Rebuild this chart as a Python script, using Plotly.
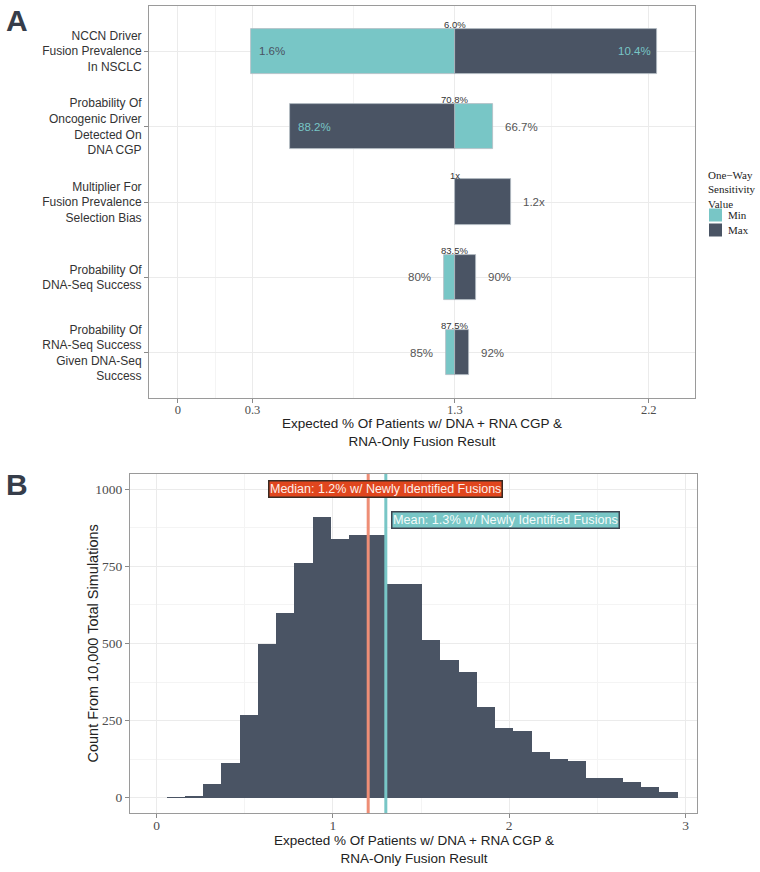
import plotly.graph_objects as go

W, H = 760, 872

# ---------------- Panel A data ----------------
categories = [
    "NCCN Driver<br>Fusion Prevalence<br>In NSCLC",
    "Probability Of<br>Oncogenic Driver<br>Detected On<br>DNA CGP",
    "Multiplier For<br>Fusion Prevalence<br>Selection Bias",
    "Probability Of<br>DNA-Seq Success",
    "Probability Of<br>RNA-Seq Success<br>Given DNA-Seq<br>Success",
]
base_result = 1.3
min_result = [0.345, 1.48, 1.3, 1.248, 1.258]
max_result = [2.25, 0.527, 1.562, 1.399, 1.367]
base_labels = ["6.0%", "70.8%", "1x", "83.5%", "87.5%"]
min_labels = ["1.6%", "66.7%", "", "80%", "85%"]
max_labels = ["10.4%", "88.2%", "1.2x", "90%", "92%"]
a_tick_vals = [0, 0.35, 1.3, 2.21]
a_tick_text = ["0", "0.3", "1.3", "2.2"]
a_minor_vals = [0.175, 0.825, 1.755]

# ---------------- Panel B data ----------------
bin_centers = [0.109, 0.212, 0.316, 0.419, 0.523, 0.626, 0.730, 0.833, 0.937, 1.040,
               1.144, 1.247, 1.351, 1.454, 1.558, 1.661, 1.765, 1.868, 1.972, 2.075,
               2.178, 2.282, 2.385, 2.489, 2.592, 2.696, 2.799, 2.903]
bin_width = 0.1035
bin_counts = [1, 6, 44, 112, 268, 500, 600, 760, 911, 838,
              851, 851, 694, 694, 510, 448, 408, 293, 225, 217,
              147, 124, 119, 62, 64, 50, 36, 18]
median_val = 1.2
mean_val = 1.3
median_label = "Median: 1.2% w/ Newly Identified Fusions"
mean_label = "Mean: 1.3% w/ Newly Identified Fusions"
median_label_pos = (1.3, 1000)
mean_label_pos = (1.3, 900)
b_tick_vals_x = [0, 1, 2, 3]
b_tick_vals_y = [0, 250, 500, 750, 1000]

TEAL = "#78c6c6"
DARK = "#4a5464"
OUTLINE = "#b4bbc3"
SANS = "Liberation Sans, Arial, sans-serif"
SERIF = "Liberation Serif, Times New Roman, serif"
GRID = "#ebebeb"
MINOR = "#f4f4f4"
BORDER = "#9a9a9a"


def px_x(p):
    return p / W


def px_y(p):
    return 1 - p / H


fig = go.Figure()

min_delta = [None if v == base_result else v - base_result for v in min_result]
max_delta = [None if v == base_result else v - base_result for v in max_result]

fig.add_trace(go.Bar(
    y=categories, x=min_delta, base=base_result, orientation="h", width=0.6,
    marker=dict(color=TEAL, line=dict(color=OUTLINE, width=0.8)),
    name="Min", showlegend=False, xaxis="x", yaxis="y", hoverinfo="skip"))
fig.add_trace(go.Bar(
    y=categories, x=max_delta, base=base_result, orientation="h", width=0.6,
    marker=dict(color=DARK, line=dict(color=OUTLINE, width=0.8)),
    name="Max", showlegend=False, xaxis="x", yaxis="y", hoverinfo="skip"))

fig.add_trace(go.Bar(
    x=bin_centers, y=bin_counts, width=bin_width,
    marker=dict(color=DARK, line=dict(color=DARK, width=0)),
    showlegend=False, xaxis="x2", yaxis="y2", hoverinfo="skip"))

annotations = []

# value labels panel A
for i, cat in enumerate(categories):
    annotations.append(dict(
        x=base_result, y=cat, xref="x", yref="y", text=base_labels[i],
        showarrow=False, yshift=27, xanchor="center", yanchor="middle",
        font=dict(family=SANS, size=9.5, color="#333333")))
    for val, lab, is_max in ((min_result[i], min_labels[i], False),
                             (max_result[i], max_labels[i], True)):
        if not lab:
            continue
        left = val < base_result
        inside = abs(val - base_result) > 0.3
        if inside:
            anchor = "left" if left else "right"
            shift = 6 if left else -4
            color = TEAL if is_max else "#4a5262"
        else:
            anchor = "right" if left else "left"
            shift = -11 if left else 10
            color = "#555555"
        annotations.append(dict(
            x=val, y=cat, xref="x", yref="y", text=lab, showarrow=False,
            xanchor=anchor, yanchor="middle", xshift=shift,
            font=dict(family=SANS, size=11.5, color=color)))

# axis titles
annotations.append(dict(
    x=0.5, xref="x domain", y=px_y(414), yref="paper",
    text="Expected % Of Patients w/ DNA + RNA CGP &<br>RNA-Only Fusion Result",
    showarrow=False, xanchor="center", yanchor="top",
    font=dict(family=SANS, size=13.5, color="#222222")))
annotations.append(dict(
    x=0.5, xref="x2 domain", y=px_y(831), yref="paper",
    text="Expected % Of Patients w/ DNA + RNA CGP &<br>RNA-Only Fusion Result",
    showarrow=False, xanchor="center", yanchor="top",
    font=dict(family=SANS, size=13.5, color="#222222")))
annotations.append(dict(
    x=px_x(92), xref="paper", y=0.5, yref="y2 domain",
    text="Count From 10,000 Total Simulations", textangle=-90,
    showarrow=False, xanchor="center", yanchor="middle",
    font=dict(family=SANS, size=14.5, color="#222222")))

# panel letters
annotations.append(dict(x=px_x(4), y=px_y(2), xref="paper", yref="paper",
                        text="<b>A</b>", showarrow=False, xanchor="left", yanchor="top",
                        font=dict(family=SANS, size=30, color="#363d4a")))
annotations.append(dict(x=px_x(4), y=px_y(466), xref="paper", yref="paper",
                        text="<b>B</b>", showarrow=False, xanchor="left", yanchor="top",
                        font=dict(family=SANS, size=30, color="#363d4a")))

# legend (manual)
annotations.append(dict(x=px_x(706), y=px_y(167), xref="paper", yref="paper",
                        text="One\u2212Way<br>Sensitivity<br>Value", showarrow=False,
                        xanchor="left", yanchor="top", align="left",
                        font=dict(family=SERIF, size=11, color="#222222")))
legend_items = [("Min", TEAL, 215), ("Max", DARK, 230)]
shapes = []
for name, col, yc in legend_items:
    shapes.append(dict(type="rect", xref="paper", yref="paper",
                       x0=px_x(709), x1=px_x(722), y0=px_y(yc - 6.5), y1=px_y(yc + 6.5),
                       fillcolor=col, line=dict(width=0)))
    annotations.append(dict(x=px_x(726), y=px_y(yc), xref="paper", yref="paper",
                            text=name, showarrow=False, xanchor="left", yanchor="middle",
                            font=dict(family=SERIF, size=11, color="#222222")))

# panel B lines and labels
shapes.append(dict(type="line", xref="x2", yref="y2 domain", x0=median_val, x1=median_val,
                   y0=0, y1=1, line=dict(color="#ee8e76", width=3)))
shapes.append(dict(type="line", xref="x2", yref="y2 domain", x0=mean_val, x1=mean_val,
                   y0=0, y1=1, line=dict(color=TEAL, width=3)))
annotations.append(dict(x=median_label_pos[0], y=median_label_pos[1], xref="x2", yref="y2",
                        text=median_label, showarrow=False, xanchor="center", yanchor="middle",
                        bgcolor="#e0461e", bordercolor="#3a2a22", borderwidth=1.5, borderpad=0.5,
                        font=dict(family=SANS, size=12.5, color="#fdf0ea")))
annotations.append(dict(x=mean_label_pos[0], y=mean_label_pos[1], xref="x2", yref="y2",
                        text=mean_label, showarrow=False, xanchor="left", yanchor="middle",
                        xshift=5,
                        bgcolor=TEAL, bordercolor="#3d4450", borderwidth=1.5, borderpad=0.5,
                        font=dict(family=SANS, size=12.7, color="#f4fbfb")))

axis_common = dict(showline=True, mirror=True, linecolor=BORDER, linewidth=1,
                   zeroline=False, ticks="outside", ticklen=4, tickcolor="#8a8a8a",
                   gridcolor=GRID, gridwidth=1)

fig.update_layout(
    width=W, height=H, margin=dict(l=0, r=0, t=0, b=0),
    paper_bgcolor="white", plot_bgcolor="white",
    barmode="overlay", bargap=0,
    showlegend=False,
    xaxis=dict(domain=[px_x(149), px_x(695)], range=[-0.136, 2.427],
               tickmode="array", tickvals=a_tick_vals, ticktext=a_tick_text,
               minor=dict(tickmode="array", tickvals=a_minor_vals, showgrid=True,
                          gridcolor=MINOR, gridwidth=1, ticks=""),
               tickfont=dict(family=SERIF, size=12.5, color="#4d4d4d"),
               ticklabelstandoff=-4,
               anchor="y", **axis_common),
    yaxis=dict(domain=[px_y(398), px_y(6)], range=[4.6, -0.6], type="category",
               tickfont=dict(family=SANS, size=12, color="#333333"),
               anchor="x", **axis_common),
    xaxis2=dict(domain=[px_x(130), px_x(697)], range=[-0.151, 3.065],
                tickmode="array", tickvals=b_tick_vals_x,
                minor=dict(tickmode="array", tickvals=[0.5, 1.5, 2.5], showgrid=True,
                           gridcolor=MINOR, gridwidth=1, ticks=""),
                tickfont=dict(family=SERIF, size=13.5, color="#4d4d4d"),
                ticklabelstandoff=-4,
                anchor="y2", **axis_common),
    yaxis2=dict(domain=[px_y(813), px_y(474)], range=[-50, 1050],
                tickmode="array", tickvals=b_tick_vals_y,
                minor=dict(tickmode="array", tickvals=[125, 375, 625, 875], showgrid=True,
                           gridcolor=MINOR, gridwidth=1, ticks=""),
                tickfont=dict(family=SERIF, size=13.5, color="#4d4d4d"),
                anchor="x2", **axis_common),
    annotations=annotations,
    shapes=shapes,
)

fig.write_html(
    "out.html",
    config={"displayModeBar": False},
    post_script="document.body.style.margin='0';document.body.style.overflow='hidden';",
)
